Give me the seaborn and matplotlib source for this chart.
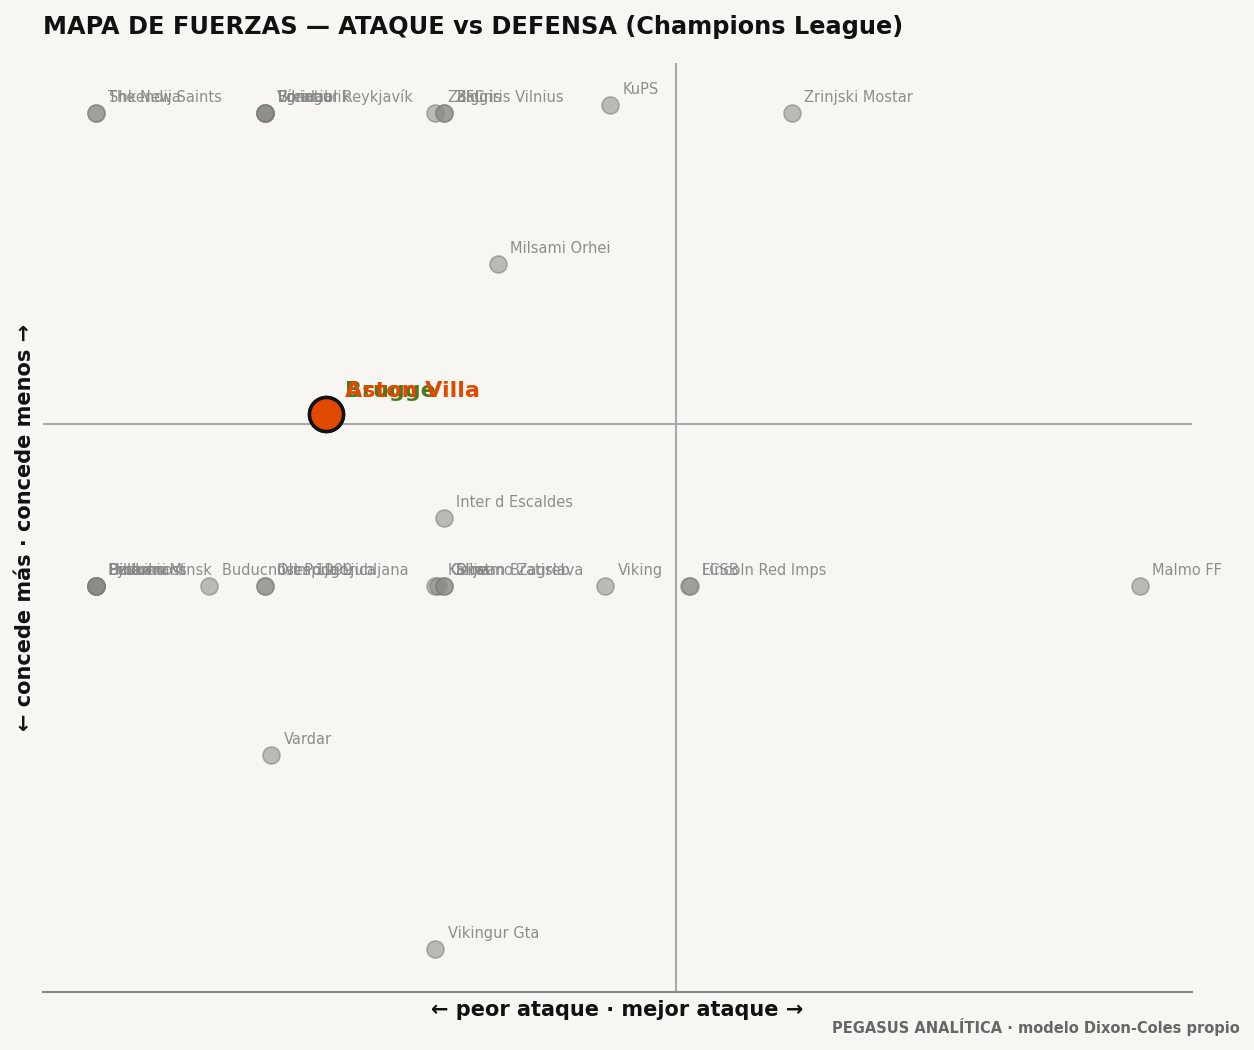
import matplotlib
matplotlib.use("Agg")
import matplotlib.pyplot as plt
import seaborn as sns
import pandas as pd

teams = ["The New Saints", "Shkendija", "Víkingur Reykjavík", "Breidablik", "Egnatia", "Borac",
         "Zalgiris", "Zalgiris Vilnius", "BFC", "KuPS", "Zrinjski Mostar", "Milsami Orhei",
         "Inter d Escaldes", "Buducnost", "Hibernians", "Ballkani", "Dinamo Minsk", "Pyunik",
         "Buducnost Podgorica", "Olimpija Ljubljana", "Ilves 1999", "Kairat", "Celje",
         "Dinamo Zagreb", "Slovan Bratislava", "Viking", "FCSB", "Lincoln Red Imps",
         "Malmo FF", "Vardar", "Vikingur Gta"]
attack = [-2.90, -2.90, -2.055, -2.055, -2.055, -2.055,
          -1.205, -1.16, -1.16, -0.33, 0.58, -0.89,
          -1.16, -2.90, -2.90, -2.90, -2.90, -2.90,
          -2.335, -2.055, -2.055, -1.205, -1.19,
          -1.16, -1.16, -0.355, 0.065, 0.07,
          2.32, -2.025, -1.205]
defense = [1.555, 1.555, 1.555, 1.555, 1.555, 1.555,
           1.555, 1.555, 1.555, 1.595, 1.555, 0.80,
           -0.47, -0.81, -0.81, -0.81, -0.81, -0.81,
           -0.81, -0.81, -0.81, -0.81, -0.81,
           -0.81, -0.81, -0.81, -0.81, -0.81,
           -0.81, -1.655, -2.625]
hl_teams = ["Brugge", "Aston Villa"]
hl_attack = [-1.75, -1.75]
hl_defense = [0.05, 0.05]
hl_colors = ["#4a7a1e", "#e04a00"]

df = pd.DataFrame({"team": teams, "attack": attack, "defense": defense})
bg = "#f7f6f2"
sns.set_theme(style="white")
plt.rcParams['font.family'] = ['DejaVu Sans']
fig = plt.figure(figsize=(12.54, 10.5), dpi=100, facecolor=bg)
ax = fig.add_axes([43/1254, 1-992/1050, (1192-43)/1254, (992-63)/1050])
ax.set_facecolor(bg)
ax.axvline(0, color="#aaaaaa", lw=1.5, zorder=0)
ax.axhline(0, color="#aaaaaa", lw=1.5, zorder=0)
sns.scatterplot(data=df, x="attack", y="defense", ax=ax, s=150, color="#8a8a86",
                alpha=0.55, edgecolor="#7a7a76", linewidth=1.2, zorder=2, legend=False)
for t, x, y in zip(teams, attack, defense):
    ax.annotate(t, (x, y), xytext=(9, 8), textcoords="offset points",
                fontsize=10.5, color="#888888", alpha=0.95)
for t, x, y, c in zip(hl_teams, hl_attack, hl_defense, hl_colors):
    ax.scatter([x], [y], s=600, color=c, edgecolor="#111111", linewidth=2.5, zorder=4)
    ax.annotate(t, (x, y), xytext=(14, 12), textcoords="offset points",
                fontsize=16, fontweight="bold", color=c, zorder=5)
ax.set_xlim(-3.165, 2.58)
ax.set_ylim(-2.84, 1.805)
ax.set_xticks([]); ax.set_yticks([])
for s in ["top", "right", "left"]:
    ax.spines[s].set_visible(False)
ax.spines["bottom"].set_color("#888888")
ax.spines["bottom"].set_linewidth(1.5)
ax.set_xlabel("← peor ataque · mejor ataque →", fontsize=15, fontweight="bold",
              color="#111111", labelpad=6)
ax.set_ylabel("← concede más · concede menos →", fontsize=15, fontweight="bold",
              color="#111111", labelpad=6)
fig.text(43/1254, 1-27/1050, "MAPA DE FUERZAS — ATAQUE vs DEFENSA (Champions League)",
         fontsize=17.3, fontweight="bold", color="#111111", va="center", ha="left")
fig.text(1240/1254, 1-1027/1050, "PEGASUS ANALÍTICA · modelo Dixon-Coles propio",
         fontsize=10.5, fontweight="bold", color="#666666", va="center", ha="right")
fig.savefig("out.png", dpi=100, facecolor=bg)
